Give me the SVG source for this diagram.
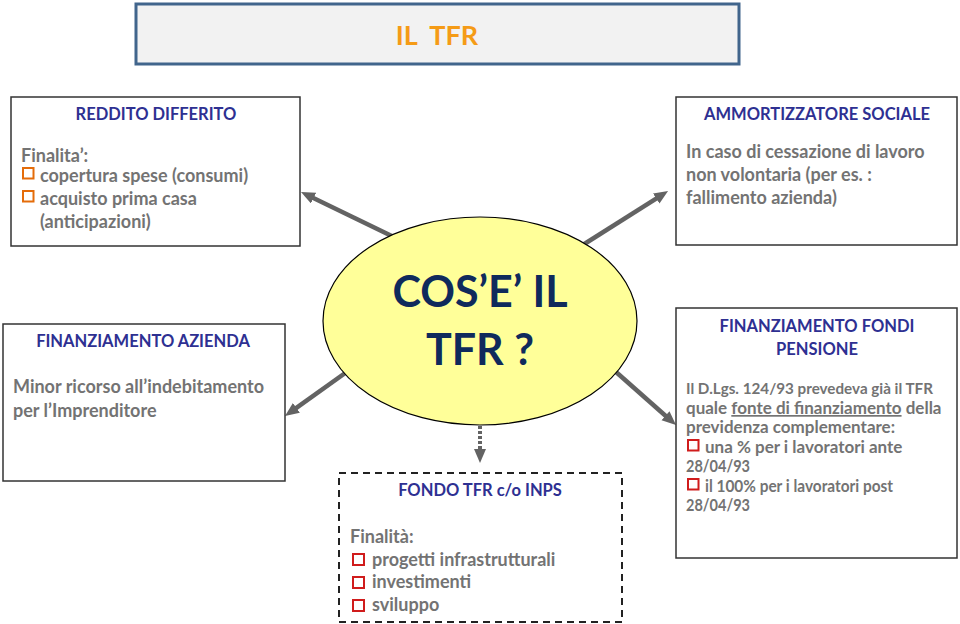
<svg xmlns="http://www.w3.org/2000/svg" width="960" height="624" viewBox="0 0 960 624">
<style>
  text { font-family: Lato, "Liberation Sans", sans-serif; font-weight: bold; }
  .box { fill: #ffffff; stroke: #333333; stroke-width: 1.5; }
  .dash { fill: #ffffff; stroke: #222222; stroke-width: 2; stroke-dasharray: 7 5; }
  .ttl { fill: #2e3092; font-size: 16.5px; text-anchor: middle; }
  .body { fill: #737373; font-size: 18px; }
  .small { fill: #737373; font-size: 17px; }
  .bo { fill: none; stroke: #e46c0a; stroke-width: 2; }
  .br { fill: none; stroke: #d01c1c; stroke-width: 2; }
  .conn { stroke: #636363; stroke-width: 4.5; fill: none; marker-end: url(#arrow); }
  .dot { stroke: #636363; stroke-width: 4; fill: none; stroke-dasharray: 3 2; marker-end: url(#arrow); }
</style>
<defs>
  <marker id="arrow" markerUnits="userSpaceOnUse" markerWidth="16" markerHeight="14" refX="6" refY="6" orient="auto">
    <path d="M0,0 L14,6 L0,12 z" fill="#636363"/>
  </marker>
</defs>
<rect width="960" height="624" fill="#ffffff"/>

<g id="connectors">
  <line class="conn" x1="400" y1="240" x2="308.2" y2="195.5"/>
  <line class="conn" x1="578" y1="248" x2="661.3" y2="195.3"/>
  <line class="conn" x1="355" y1="366" x2="291.5" y2="411.3"/>
  <line class="conn" x1="607" y1="364" x2="670" y2="419.7"/>
  <line class="dot" x1="480" y1="426" x2="480" y2="455"/>
</g>

<g id="title">
  <rect x="136" y="4" width="603" height="60" fill="#f2f2f2" stroke="#41658c" stroke-width="3"/>
  <text x="437" y="45" xml:space="preserve" style="fill:#f59b16;font-size:27px;text-anchor:middle">IL  TFR</text>
</g>

<g id="center">
  <ellipse cx="480" cy="321" rx="157" ry="104" fill="#ffff99" stroke="#000000" stroke-width="1.2"/>
  <text x="480" y="307" style="fill:#0f2a5c;font-size:43px;text-anchor:middle">COS’E’ IL</text>
  <text x="480" y="365" style="fill:#0f2a5c;font-size:43px;text-anchor:middle">TFR ?</text>
</g>

<g id="reddito-differito">
  <rect class="box" x="11" y="97" width="289" height="149"/>
  <text class="ttl" x="156" y="120">REDDITO DIFFERITO</text>
  <text class="body" x="21" y="162">Finalita’:</text>
  <rect class="bo" x="23" y="168" width="10.5" height="10.5"/>
  <text class="body" x="40" y="182">copertura spese (consumi)</text>
  <rect class="bo" x="23" y="191" width="10.5" height="10.5"/>
  <text class="body" x="40" y="205">acquisto prima casa</text>
  <text class="body" x="40" y="228">(anticipazioni)</text>
</g>

<g id="ammortizzatore-sociale">
  <rect class="box" x="676" y="97" width="281" height="148"/>
  <text class="ttl" x="817" y="120">AMMORTIZZATORE SOCIALE</text>
  <text class="body" x="686" y="158">In caso di cessazione di lavoro</text>
  <text class="body" x="686" y="181">non volontaria (per es. :</text>
  <text class="body" x="686" y="204">fallimento azienda)</text>
</g>

<g id="finanziamento-azienda">
  <rect class="box" x="3" y="324" width="282" height="157"/>
  <text class="ttl" x="143" y="347">FINANZIAMENTO AZIENDA</text>
  <text class="body" x="13" y="393">Minor ricorso all’indebitamento</text>
  <text class="body" x="13" y="417">per l’Imprenditore</text>
</g>

<g id="finanziamento-fondi-pensione">
  <rect class="box" x="676" y="308" width="281" height="250"/>
  <text class="ttl" x="817" y="332">FINANZIAMENTO FONDI</text>
  <text class="ttl" x="817" y="355">PENSIONE</text>
  <text class="small" x="686" y="394" style="font-size:16px" textLength="247" lengthAdjust="spacingAndGlyphs">Il D.Lgs. 124/93 prevedeva già il TFR</text>
  <text class="small" x="686" y="414">quale <tspan text-decoration="underline">fonte di finanziamento</tspan> della</text>
  <text class="small" x="686" y="433">previdenza complementare:</text>
  <rect class="br" x="688" y="440" width="10.5" height="10.5"/>
  <text class="small" x="705" y="453">una % per i lavoratori ante</text>
  <text class="small" x="686" y="472" textLength="64" lengthAdjust="spacingAndGlyphs">28/04/93</text>
  <rect class="br" x="688" y="479" width="10.5" height="10.5"/>
  <text class="small" x="705" y="492" textLength="188" lengthAdjust="spacingAndGlyphs">il 100% per i lavoratori post</text>
  <text class="small" x="686" y="511" textLength="64" lengthAdjust="spacingAndGlyphs">28/04/93</text>
</g>

<g id="fondo-tfr-inps">
  <rect class="dash" x="339" y="473" width="283" height="149"/>
  <text class="ttl" x="480" y="496">FONDO TFR c/o INPS</text>
  <text class="body" x="350" y="543">Finalità:</text>
  <rect class="br" x="353" y="554" width="11" height="11"/>
  <text class="body" x="372" y="566">progetti infrastrutturali</text>
  <rect class="br" x="353" y="577" width="11" height="11"/>
  <text class="body" x="372" y="588">investimenti</text>
  <rect class="br" x="353" y="600" width="11" height="11"/>
  <text class="body" x="372" y="611">sviluppo</text>
</g>
</svg>
